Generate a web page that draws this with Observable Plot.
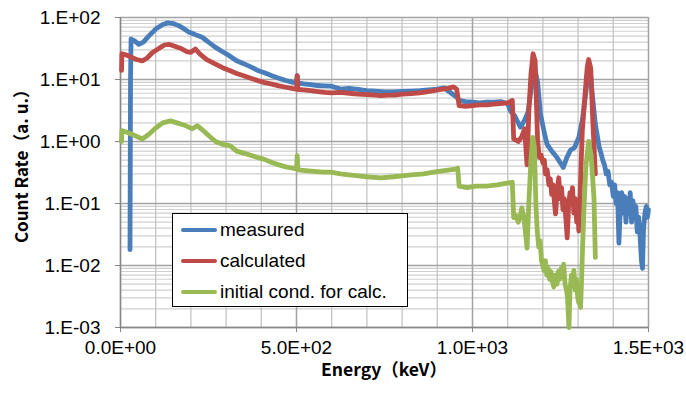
<!DOCTYPE html>
<html><head><meta charset="utf-8">
<script src="https://cdn.jsdelivr.net/npm/d3@7"></script>
<script src="https://cdn.jsdelivr.net/npm/@observablehq/plot@0.6"></script>
<style>
body{margin:0;background:#fff;}
#wrap{position:relative;width:686px;height:398px;overflow:hidden;}
#legend{position:absolute;left:172px;top:213px;width:234px;height:92px;border:1.5px solid #000;background:#fff;font-family:"Liberation Sans",Arial,sans-serif;font-size:19px;color:#000;}
#legend .row{height:31px;display:flex;align-items:center;}
#legend .sw{width:36px;height:4px;border-radius:2px;margin-left:8px;margin-right:3px;}
</style></head><body><div id="wrap"></div>
<script>
const seriesNames = ["measured", "calculated", "initial cond. for calc."];
const seriesColors = ["#4a7ebb", "#be4b48", "#98b954"];
const xTickValues = [0, 500, 1000, 1500];
const xGridValues = [0,100,200,300,400,500,600,700,800,900,1000,1100,1200,1300,1400,1500];
const yTickValues = [1e-3, 1e-2, 1e-1, 1, 10, 100];
const xTitle = "Energy（keV）";
const yTitle = "Count Rate（a. u.）";

const measuredEnergy = [27,28.5,30,40,52,65,80,100,120,135,150,165,180,195,205,215,232,250,270,290,310,330,350,370,390,407,430,450,470,490,500,502,504,520,540,560,580,600,625,650,675,700,725,750,775,800,825,850,875,900,920,940,955,962,980,1000,1020,1040,1060,1080,1100,1108,1120,1136,1148,1158,1165,1172,1178,1185,1193,1205,1212,1225,1240,1250,1258,1268,1278,1290,1302,1312,1320,1328,1334,1340,1349,1355,1360,1365,1370,1375,1380,1385,1390,1395,1400,1404,1408,1412,1416,1420,1424,1428,1432,1436,1440,1444,1448,1452,1456,1460,1464,1468,1472,1476,1480,1483,1486,1490,1494,1497,1500];
const measuredRate = [0.018,10,45,42,37,40,50,65,77,82,80,74,66,58,55,52,48,40,33,28,24,20,18,16,14,13,11.5,10.5,9.6,9.0,8.9,11.5,8.8,8.5,8.3,8.0,7.9,7.8,7.0,7.2,6.9,6.6,6.5,6.3,6.3,6.4,6.5,6.6,6.8,7.0,7.3,6.0,5.2,4.6,4.4,4.3,4.2,4.3,4.3,4.4,4.1,3.1,2.6,1.7,2.2,3.0,6,12,14,9,2.8,1.3,0.9,0.7,0.55,0.45,0.38,0.55,0.72,0.8,1.16,2.2,5,12,15,6,1.9,1.2,0.8,0.65,0.5,0.42,0.3,0.33,0.2,0.22,0.13,0.2,0.1,0.15,0.023,0.09,0.15,0.07,0.13,0.05,0.12,0.07,0.15,0.05,0.11,0.06,0.09,0.035,0.06,0.03,0.012,0.009,0.04,0.07,0.09,0.06,0.08];

const calculatedEnergy = [3,4,15,30,45,62,75,90,110,125,137,150,170,190,200,213,225,245,270,290,312,330,350,370,390,407,430,450,470,490,500,502,504,520,540,560,580,600,625,650,675,700,725,739,760,780,800,825,850,870,890,910,930,946,955,962,980,1000,1020,1040,1060,1080,1100,1113,1117,1130,1140,1148,1155,1160,1166,1172,1178,1185,1190,1195,1200,1204,1207,1212,1217,1221,1225,1229,1233,1236,1240,1245,1249,1253,1257,1261,1265,1269,1273,1277,1281,1284,1288,1292,1296,1299,1302,1306,1309,1312,1320,1326,1330,1336,1342,1349];
const calculatedRate = [14,26,25,23,21,20,22,27,32,36,37,35,32,28,27.5,31,26,21,17.7,15.5,13.8,12.5,11.5,10.5,9.6,9,8.4,7.9,7.5,7.1,7.0,11.5,6.9,6.8,6.6,6.4,6.2,6.1,6.2,6.0,5.8,5.7,5.6,5.5,5.6,5.6,5.8,5.9,6.1,6.3,6.6,6.9,7.2,7.6,7.0,3.8,3.7,3.8,3.9,3.9,4.0,4.1,4.2,4.6,1.1,1.0,1.2,1.6,0.42,3,12,26,20,1.0,0.55,0.6,0.45,0.5,0.3,0.35,0.2,0.25,0.14,0.2,0.1,0.068,0.15,0.26,0.12,0.18,0.08,0.12,0.06,0.028,0.09,0.15,0.1,0.18,0.07,0.12,0.05,0.09,0.036,0.15,0.5,1.5,6,16,21,15,2,0.3];

const initialEnergy = [3,4,20,40,62,80,100,120,142,160,180,204,218,235,250,270,290,312,330,350,370,390,407,430,450,470,490,500,502,504,525,550,575,597,625,650,675,700,739,775,800,825,861,890,920,952,958,962,985,1010,1040,1070,1090,1113,1117,1122,1130,1135,1140,1146,1155,1160,1166,1171,1176,1180,1184,1188,1192,1196,1200,1203,1207,1211,1215,1219,1223,1227,1231,1235,1240,1244,1248,1252,1256,1259,1263,1267,1270,1274,1277,1281,1285,1288,1292,1295,1299,1302,1305,1307,1310,1312,1316,1322,1330,1337,1345,1349];
const initialRate = [1.0,1.5,1.4,1.25,1.1,1.3,1.65,2.0,2.15,2.0,1.85,1.6,1.8,1.5,1.25,1.0,0.9,0.85,0.7,0.65,0.6,0.55,0.52,0.46,0.42,0.39,0.37,0.36,0.59,0.35,0.34,0.33,0.32,0.32,0.30,0.29,0.28,0.27,0.26,0.27,0.28,0.29,0.30,0.32,0.34,0.36,0.37,0.19,0.18,0.19,0.19,0.20,0.21,0.22,0.059,0.065,0.05,0.06,0.085,0.06,0.019,0.1,0.5,1.16,0.8,0.1,0.036,0.02,0.025,0.012,0.01,0.0083,0.012,0.007,0.009,0.006,0.008,0.0055,0.0045,0.007,0.005,0.008,0.006,0.009,0.007,0.0105,0.005,0.004,0.003,0.001,0.004,0.007,0.005,0.0083,0.004,0.006,0.003,0.0025,0.004,0.0021,0.006,0.015,0.068,0.4,1.0,0.6,0.126,0.0135];

const toRows = (E, V) => E.map((e, i) => ({e, v: V[i]}));
const series = [toRows(measuredEnergy, measuredRate), toRows(calculatedEnergy, calculatedRate), toRows(initialEnergy, initialRate)];

const yMinor = [];
for (let k = -3; k < 2; k++) for (let m = 2; m <= 9; m++) yMinor.push(m * 10 ** k);

const fmtX = d => {
  if (d === 0) return "0.0E+00";
  const e = Math.floor(Math.log10(d));
  return (d / 10 ** e).toFixed(1) + "E+" + String(e).padStart(2, "0");
};
const fmtY = d => {
  const e = Math.round(Math.log10(d));
  return "1.E" + (e < 0 ? "-" : "+") + String(Math.abs(e)).padStart(2, "0");
};

const chart = Plot.plot({
  width: 686, height: 398,
  marginLeft: 120, marginRight: 38, marginTop: 17, marginBottom: 71,
  style: {fontFamily: "Liberation Sans, Arial, sans-serif", fontSize: "19px", background: "#fff", color: "#000", overflow: "visible"},
  x: {domain: [0, 1500]},
  y: {type: "log", domain: [1e-3, 100]},
  marks: [
    Plot.ruleY(yMinor, {stroke: "#cfcfcf", strokeWidth: 1.2}),
    Plot.ruleX(xGridValues, {stroke: "#c4c4c4", strokeWidth: 1.3}),
    Plot.ruleY(yTickValues, {stroke: "#a3a3a3", strokeWidth: 1.4}),
    Plot.ruleX(xTickValues, {stroke: "#a3a3a3", strokeWidth: 1.4}),
    Plot.ruleX([0], {stroke: "#868686", strokeWidth: 1.3}),
    Plot.ruleY([1e-3], {stroke: "#868686", strokeWidth: 1.3}),
    ...series.map((d, i) => Plot.line(d, {x: "e", y: "v", stroke: seriesColors[i], strokeWidth: 4.8, strokeLinejoin: "round", strokeLinecap: "round"})),
    Plot.axisX({ticks: xTickValues, tickFormat: fmtX, tickSize: 5, tickPadding: 8, label: null, stroke: "#868686", fill: "#000"}),
    Plot.axisY({ticks: yTickValues, tickFormat: fmtY, tickSize: 5, tickPadding: 15, label: null, stroke: "#868686", fill: "#000"})
  ]
});

const wrap = document.getElementById("wrap");
wrap.appendChild(chart);

const svg = d3.select(chart);
svg.append("text")
  .attr("x", 384).attr("y", 376)
  .attr("text-anchor", "middle")
  .style("font-family", "'Noto Sans CJK JP', sans-serif")
  .style("font-weight", "bold").style("font-size", "17.5px")
  .attr("fill", "#000")
  .text(xTitle);
svg.append("text")
  .attr("transform", "translate(28,162) rotate(-90)")
  .attr("text-anchor", "middle")
  .style("font-family", "'Noto Sans CJK JP', sans-serif")
  .style("font-weight", "bold").style("font-size", "17px")
  .attr("fill", "#000")
  .text(yTitle);

const legend = d3.select(wrap).append("div").attr("id", "legend");
seriesNames.forEach((name, i) => {
  const row = legend.append("div").attr("class", "row");
  row.append("div").attr("class", "sw").style("background", seriesColors[i]);
  row.append("span").text(name);
});
</script></body></html>
